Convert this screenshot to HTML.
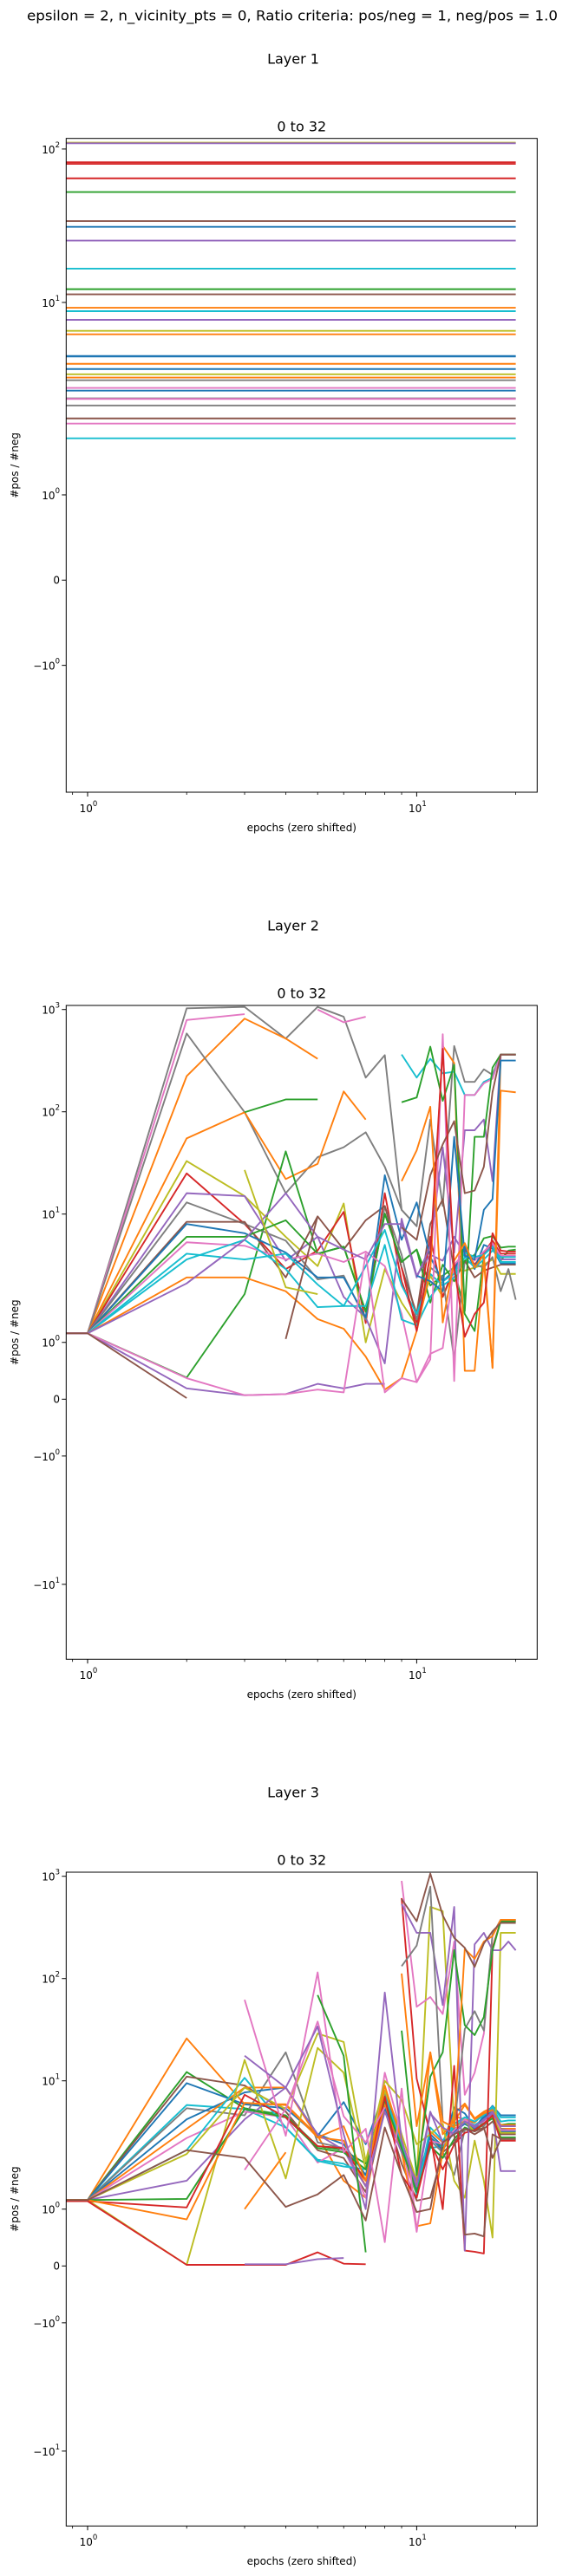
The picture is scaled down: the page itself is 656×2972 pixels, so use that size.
<!DOCTYPE html>
<html><head><meta charset="utf-8"><title>pos/neg ratio per layer</title>
<style>
html,body{margin:0;padding:0;background:#fff;}
svg{display:block;font-family:"DejaVu Sans","Liberation Sans",sans-serif;}
</style></head>
<body>
<svg id="chart" width="656" height="2972" viewBox="0 0 656 2972" xmlns="http://www.w3.org/2000/svg">
<rect width="656" height="2972" fill="#fff"/>
<text x="337" y="18" font-size="16" text-anchor="middle" dominant-baseline="central" textLength="612" lengthAdjust="spacingAndGlyphs">epsilon = 2, n_vicinity_pts = 0, Ratio criteria: pos/neg = 1, neg/pos = 1.0</text>
</svg>
<script>
const N = null;
const epochs = [0,1,2,3,4,5,6,7,8,9,10,11,12,13,14,15,16,17,18,19,20];
const layerTitles = ["Layer 1","Layer 2","Layer 3"];
const panelTitle = "0 to 32";
const xTickValues = [1,10];
const xTickExps = ["0","1"];
const xMinorValues = [0.9,2,3,4,5,6,7,8,9,20];
const p1YTicks = [100,10,1,0,-1];
const p23YTicks = [1000,100,10,1,0,-1,-10];

const p1Values = [110,109,82,80,64.4,52.4,33.9,31.1,25.3,16.6,12.2,11.3,9.23,8.77,7.70,6.53,6.20,4.48,4.44,3.98,3.68,3.40,3.24,3.11,2.77,2.66,2.37,2.35,2.13,1.897,1.837,1.664];
const p1Colors = ["#bcbd22","#9467bd","#d62728","#d62728","#d62728","#2ca02c","#8c564b","#1f77b4","#9467bd","#17becf","#2ca02c","#8c564b","#ff7f0e","#17becf","#9467bd","#bcbd22","#ff7f0e","#1f77b4","#1f77b4","#ff7f0e","#1f77b4","#bcbd22","#ff7f0e","#7f7f7f","#e377c2","#1f77b4","#7f7f7f","#e377c2","#7f7f7f","#8c564b","#e377c2","#17becf"];

const p2Colors = ["#7f7f7f","#e377c2","#ff7f0e","#7f7f7f","#ff7f0e","#2ca02c","#2ca02c","#bcbd22","#d62728","#9467bd","#7f7f7f","#8c564b","#1f77b4","#2ca02c","#e377c2","#17becf","#17becf","#17becf","#ff7f0e","#9467bd","#9467bd","#e377c2","#8c564b","#8c564b","#bcbd22","#2ca02c","#8c564b","#1f77b4","#ff7f0e","#d62728"];
const p2Values = [
[1.16,1.16,1028,1060,520,1060,850,216,358,11,7.6,84,12,440,196,196,260,230,363,363,363],
[1.16,1.16,790,900,N,1000,750,850,N,N,N,N,N,N,N,N,N,N,N,N,N],
[1.16,1.16,223,815,520,330,N,N,N,N,N,N,N,N,N,N,N,N,N,N,N],
[1.16,1.16,583,99,16,36,45,63,29,11,7.6,N,N,N,N,N,N,N,N,N,N],
[1.16,1.16,55,99,22,31,158,84,N,N,N,N,N,N,N,N,N,N,N,N,N],
[N,N,N,99,132,132,N,N,N,N,N,N,N,N,N,N,N,N,N,N,N],
[1.16,1.16,0.38,1.85,41,4.1,4.8,1.54,10.1,3.4,4.5,2.0,2.5,3.0,1.5,1.2,4.0,5.5,3.5,4.4,4.5],
[1.16,1.16,33,15,6,3.1,12.7,1.0,2.9,1.7,1.3,2.5,1.8,2.8,2.8,3.0,3.2,3.6,2.6,2.6,2.6],
[1.16,1.16,25,8,2.9,4.4,10.5,1.34,16,2.2,1.35,6,1.8,3,4.5,3.2,4.2,5.5,4.1,4.1,4.1],
[1.16,1.16,16,15,3.5,6,1.8,1.44,0.63,9,2.5,4,3.5,6,4,3.8,4,5,3.6,3.6,3.6],
[1.16,1.16,13,8,5.5,2.3,2.5,1.4,12,4,1.4,3,2.4,0.7,3.5,3.2,3,3.8,1.9,2.9,1.75],
[1.16,1.16,8.4,8.4,2.4,9.5,4.5,8.7,12,3,1.5,8,14,2.8,3.5,2.4,2.8,3,3.2,3.2,3.2],
[1.16,1.16,8,6.5,4.2,2.4,2.4,1.44,24,5.6,13,3.8,2.2,2.8,4.8,2.9,5,4.6,3.3,3.3,3.3],
[1.16,1.16,6,6,8.7,4.1,4.8,1.54,10.1,3.4,4.5,1.7,3.2,2.2,3.5,4.0,5.8,6.1,4.7,4.8,4.8],
[1.16,1.16,5.3,4.9,3.6,4.1,3.4,4.3,3.1,1.5,0.3,0.8,0.9,3.2,4.2,3.5,4.3,5.2,3.9,3.9,3.9],
[1.16,1.16,4.1,3.6,4.1,2.05,1.64,1.64,5,1.4,1.3,1.8,2.2,2.6,4.2,3.8,4,4.8,3.4,3.4,3.4],
[1.16,1.16,3.6,5.6,2.9,1.62,1.64,3.1,7,2.0,1.5,2.6,2.0,2.4,3.8,3.0,3.6,4.4,3.8,3.8,3.8],
[N,N,N,N,N,N,N,N,N,363,216,330,238,246,146,146,196,215,363,363,363],
[1.16,1.16,2.4,2.4,1.9,1.41,1.24,0.75,0.17,0.37,1.2,2.8,440,300,0.5,0.5,3.5,0.55,363,363,363],
[1.16,1.16,2.1,5.6,16,6,4.5,3.6,8,8,2.4,4.9,45,4.2,66,66,84,21,363,363,363],
[1.16,1.16,0.19,0.07,0.09,0.27,0.19,0.27,0.27,N,N,N,N,N,N,N,N,N,N,N,N],
[1.16,1.16,0.37,0.07,0.09,0.17,0.12,4.1,0.12,0.37,0.3,0.7,573,0.32,146,146,190,210,363,363,363],
[1.16,1.16,0.02,N,N,N,N,N,N,N,N,N,N,N,N,N,N,N,N,N,N],
[N,N,N,N,1.06,9.5,N,N,N,N,N,N,N,N,N,N,N,N,N,N,N],
[N,N,N,27,1.97,1.85,N,N,N,N,N,N,N,N,N,N,N,N,N,N,N],
[N,N,N,N,N,N,N,N,N,124,138,433,128,288,1.55,57,57,270,363,363,363],
[N,N,N,N,N,N,N,N,N,7.4,5.6,24,48,81,16,17,29,156,363,363,363],
[N,N,N,N,N,N,N,N,N,N,2.5,2.2,1.9,57,3.9,3.6,11,14,317,317,317],
[N,N,N,N,N,N,N,N,N,21,42,112,1.35,3.5,5.2,3.0,4.0,0.55,161,158,155],
[N,N,N,N,N,N,N,N,N,3.0,1.2,4.0,413,3.0,1.1,1.5,1.7,6.5,4.4,4.3,4.3]
];

const p3Colors = ["#ff7f0e","#2ca02c","#8c564b","#1f77b4","#17becf","#7f7f7f","#1f77b4","#ff7f0e","#e377c2","#17becf","#bcbd22","#bcbd22","#9467bd","#2ca02c","#d62728","#ff7f0e","#d62728","#d62728","#9467bd","#e377c2","#e377c2","#e377c2","#9467bd","#9467bd","#7f7f7f","#2ca02c","#2ca02c","#ff7f0e","#ff7f0e","#8c564b","#8c564b","#8c564b"];
const p3Values = [
[1.16,1.16,26,5.9,5.9,2.9,1.5,1.2,6.5,2.0,1.25,3.2,2.5,4.8,6,4.3,5,5.5,3.4,3.4,3.4],
[1.16,1.16,12.2,5.4,4.6,2.3,2.1,1.8,7.5,2.3,1.5,2.8,2.2,3.4,3.8,3.3,3.9,4.7,3.7,3.8,3.8],
[1.16,1.16,11,9,5,2.1,1.9,1.3,5.2,1.8,1.15,1.2,2.0,2.5,3.4,3.0,3.4,4.0,3.0,3.0,3.0],
[1.16,1.16,9.5,5.9,5.4,2.9,6.2,2.4,8,2.4,1.4,3.0,2.3,5.5,4.8,3.5,4.5,5.7,4.6,4.6,4.6],
[1.16,1.16,5.8,5.3,3.5,1.87,1.8,1.6,6.8,2.3,1.3,2.2,2.3,3.6,4.2,3.7,4.2,5.4,4.0,4.1,4.1],
[1.16,1.16,5.4,4.6,19,2.5,2.2,1.5,7.5,2.4,1.4,2.6,2.0,1.6,3.3,3.6,3.6,4.6,3.4,3.3,3.3],
[1.16,1.16,4.2,7.7,8.6,3.0,2.4,1.6,5.5,2.2,1.35,2.8,2.1,3.2,3.8,3.4,4.4,5.0,3.2,3.2,3.2],
[1.16,1.16,3.4,8.6,8.6,2.8,2.6,1.4,6,2.0,0.7,0.75,2.0,4.5,4.2,3.9,4.8,5.2,3.6,3.6,3.6],
[1.16,1.16,2.76,5.0,4.4,1.82,2.2,1.2,12,3,0.6,2.6,2.4,3.3,4.2,3.6,4.0,4.6,3.3,3.3,3.3],
[1.16,1.16,2.1,10.7,3.5,1.85,1.75,1.7,7,2.5,1.25,3.5,2.6,3.8,4.4,4.0,4.6,5.6,4.4,4.4,4.4],
[1.16,1.16,1.97,8.6,5.3,29,24,1.84,10,6.5,2.4,3,3.8,1.5,1.2,2.6,1.5,0.5,280,280,280],
[1.16,1.16,0.02,16,1.54,21,12,1.7,8,3,1.5,502,455,3.6,4.0,3.2,3.8,4.4,3.1,3.1,3.1],
[1.16,1.16,1.5,4.2,8.6,3.0,2.1,1.4,5,2.0,1.5,5,2.5,3,4,3.5,4.2,4.8,1.67,1.67,1.67],
[1.16,1.16,1.18,5.3,4.4,2.2,2.0,1.7,6.5,2.2,1.3,2.3,1.9,2.7,3.5,3.2,3.8,4.3,2.8,2.8,2.8],
[1.14,1.14,1.03,7.3,4.4,2.3,2.2,1.5,7,1.6,1.2,2.5,1.7,2.4,3.1,3.3,3.8,4.6,2.6,2.6,2.6],
[1.16,1.16,0.82,6.1,5.8,2.8,3.6,1.5,9,2.6,1.4,19,3,4.0,5.8,4.2,4.8,5.2,3.7,3.7,3.7],
[1.14,1.14,0.02,0.02,0.02,0.24,0.04,0.03,N,N,N,N,N,N,N,N,N,N,N,N,N],
[N,N,N,N,N,N,N,N,N,611,10.5,3.0,1.0,14,0.27,0.25,0.22,200,363,363,363],
[N,N,N,0.03,0.03,0.12,0.14,N,N,N,N,N,N,N,N,N,N,N,N,N,N],
[N,N,N,62,2.9,115,2.0,3.4,0.42,8.4,0.62,N,N,N,N,N,N,N,N,N,N],
[N,N,N,1.69,5.3,38,4.5,2.5,5.5,N,N,N,N,N,N,N,N,N,N,N,N],
[N,N,N,N,N,N,N,N,N,902,53,66,45,230,7.3,12,29,270,375,375,375],
[N,N,N,17.6,8.6,34,3,1.0,73,2.6,1.4,4.8,3.5,3.0,4.0,3.6,4.1,5.0,3.6,3.6,3.6],
[N,N,N,N,N,N,N,N,N,534,280,280,55,502,0.27,216,280,189,189,230,189],
[N,N,N,N,N,N,N,N,N,132,210,792,4,3.5,32,48,31,270,375,375,375],
[N,N,N,N,N,69,17.6,0.24,N,N,N,N,N,N,N,N,N,N,N,N,N],
[N,N,N,N,N,N,N,N,N,31,1.6,11,19,190,35,28,42,189,363,363,363],
[N,N,N,1.0,2.0,N,N,N,N,N,N,N,N,N,N,N,N,N,N,N,N],
[N,N,N,N,N,N,N,N,N,112,3.6,19,4,3.5,195,156,230,260,375,375,375],
[1.16,1.16,2.1,1.9,1.04,1.26,1.6,0.8,3.5,1.6,0.95,1.0,2.5,3,3.4,3.2,3.5,1.9,2.7,2.7,2.7],
[N,N,N,N,N,N,N,N,N,600,363,1062,415,250,200,130,220,290,350,350,350],
[N,N,N,N,N,N,N,N,N,N,N,N,N,3.0,0.55,0.57,0.52,3.0,2.7,2.7,2.7]
];

const NS = "http://www.w3.org/2000/svg";
const svg = document.getElementById("chart");
const LIN = 2, LSC = 1/0.9;
const AX_L = 76.3, AX_R = 619.3, X1 = 101, XD = 379.4;
function symT(v){ const a=Math.abs(v); return a<=LIN ? v*LSC : Math.sign(v)*LIN*(LSC+Math.log10(a/LIN)); }
function xPx(e){ return e<=0 ? AX_L-80 : X1 + XD*Math.log10(e); }
function mk(tag, attrs, parent){ const el=document.createElementNS(NS,tag); for(const k in attrs) el.setAttribute(k,attrs[k]); (parent||svg).appendChild(el); return el; }
function powLabel(parent, x, y, anchor, prefix, exp){
  const t = mk("text",{x:x,y:y,"font-size":12,"text-anchor":anchor,"dominant-baseline":"central"},parent);
  
  
  t.appendChild(document.createTextNode(prefix+"10"));
  const s = mk("tspan",{dy:-5,"font-size":8.5},t);
  s.textContent = exp;
  return t;
}

const panels = [
  {top:159.7, bottom:914, zero:669.3, k:88.5, ticks:p1YTicks, vals:null, cols:p1Colors},
  {top:1160, bottom:1914.3, zero:1614.3, k:59, ticks:p23YTicks, vals:p2Values, cols:p2Colors},
  {top:2160, bottom:2914.3, zero:2614.3, k:59, ticks:p23YTicks, vals:p3Values, cols:p3Colors}
];

panels.forEach((p, pi) => {
  const off = pi*1000;
  const yPx = v => p.zero - p.k*symT(v);
  const g = mk("g",{});
  
  

  const lt = mk("text",{x:338,y:68+off,"font-size":16,"text-anchor":"middle","dominant-baseline":"central"},g);
  
  
  lt.textContent = layerTitles[pi];

  const pt = mk("text",{x:(AX_L+AX_R)/2,y:146+off,"font-size":16,"text-anchor":"middle","dominant-baseline":"central"},g);
  
  
  pt.textContent = panelTitle;

  const cp = mk("clipPath",{id:"clip"+pi},g);
  mk("rect",{x:AX_L,y:p.top,width:AX_R-AX_L,height:p.bottom-p.top},cp);
  const lines = mk("g",{"clip-path":"url(#clip"+pi+")",fill:"none","stroke-width":1.9,"stroke-linejoin":"round"},g);
  
  

  const seriesList = p.vals ? p.vals : p1Values.map(v => epochs.map(() => v));
  seriesList.forEach((vals, si) => {
    let d = "", pen = false;
    vals.forEach((v, i) => {
      if (v === null) { pen = false; return; }
      d += (pen ? "L" : "M") + xPx(epochs[i]).toFixed(2) + "," + yPx(v).toFixed(2);
      pen = true;
    });
    const path = mk("path",{d:d,stroke:p.cols[si % p.cols.length]},lines);
    
    
  });

  const frame = mk("rect",{x:AX_L,y:p.top,width:AX_R-AX_L,height:p.bottom-p.top,fill:"none",stroke:"#000","stroke-width":1},g);
  
  

  p.ticks.forEach(tv => {
    const y = yPx(tv);
    const tk = mk("line",{x1:AX_L-5,x2:AX_L,y1:y,y2:y,stroke:"#000","stroke-width":1},g);
    
    
    if (tv === 0) {
      const t0 = mk("text",{x:69,y:y,"font-size":12,"text-anchor":"end","dominant-baseline":"central"},g);
      
      
      t0.textContent = "0";
    } else {
      powLabel(g, 69, y+1, "end", tv<0 ? "\u2212" : "", String(Math.round(Math.log10(Math.abs(tv)))));
    }
  });

  xTickValues.forEach((xv, i) => {
    const x = xPx(xv);
    const tk = mk("line",{x1:x,x2:x,y1:p.bottom,y2:p.bottom+5,stroke:"#000","stroke-width":1},g);
    
    
    powLabel(g, x+1, 933+off, "middle", "", xTickExps[i]);
  });
  xMinorValues.forEach(xv => {
    const x = xPx(xv);
    const tk = mk("line",{x1:x,x2:x,y1:p.bottom,y2:p.bottom+3,stroke:"#000","stroke-width":0.8},g);
    
    
  });

  const xl = mk("text",{x:(AX_L+AX_R)/2,y:955+off,"font-size":12,"text-anchor":"middle","dominant-baseline":"central"},g);
  
  
  xl.textContent = "epochs (zero shifted)";

  const cy = (p.top+p.bottom)/2;
  const yl = mk("text",{x:17,y:cy,"font-size":12,"text-anchor":"middle","dominant-baseline":"central",transform:"rotate(-90 17 "+cy+")"},g);
  
  
  yl.textContent = "#pos / #neg";
});
</script>
</body></html>
